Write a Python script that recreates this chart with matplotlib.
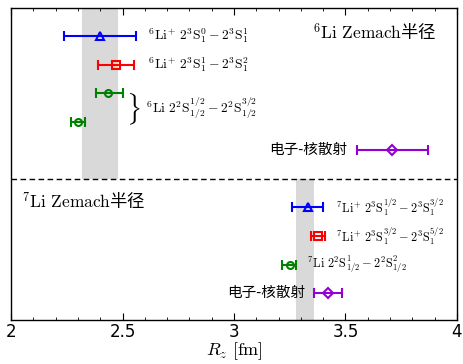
import matplotlib
matplotlib.use("Agg")
import matplotlib.pyplot as plt
from matplotlib.ticker import MultipleLocator

plt.rcParams['mathtext.fontset'] = 'cm'
plt.rcParams['font.family'] = ['DejaVu Sans']
CJK = ['Noto Sans CJK SC', 'DejaVu Sans']

# 6Li panel (rows from top)
li6_y = [10, 9, 8, 7, 6]
li6_val = [2.40, 2.47, 2.435, 2.30, 3.71]
li6_lo = [2.238, 2.39, 2.38, 2.27, 3.55]
li6_hi = [2.56, 2.55, 2.50, 2.33, 3.87]
li6_band = [2.32, 2.48]

# 7Li panel
li7_y = [4, 3, 2, 1]
li7_val = [3.33, 3.377, 3.25, 3.42]
li7_lo = [3.26, 3.345, 3.215, 3.36]
li7_hi = [3.40, 3.41, 3.28, 3.485]
li7_band = [3.28, 3.36]

li6_style = [('blue', '^'), ('red', 's'), ('green', 'o'), ('green', 'o'), ('darkviolet', 'D')]
li7_style = [('blue', '^'), ('red', 's'), ('green', 'o'), ('darkviolet', 'D')]

split_y = 5
y_min, y_max = 0.06, 10.98

fig = plt.figure(figsize=(4.63, 3.64), dpi=100)
ax = fig.add_axes([0.0238, 0.121, 0.9632, 0.857])

ax.fill_between(li6_band, split_y, y_max, color='#d9d9d9', lw=0, zorder=0)
ax.fill_between(li7_band, y_min, split_y, color='#d9d9d9', lw=0, zorder=0)
ax.axhline(split_y, color='black', ls='--', lw=1.0, dashes=(4, 2.5))


def draw(ys, vals, los, his, styles):
    for y, v, lo, hi, (c, m) in zip(ys, vals, los, his, styles):
        ms = 5 if m in ('D', 'o') else 6
        ax.errorbar(v, y, xerr=[[v - lo], [hi - v]], fmt=m, color=c, mfc='none',
                    mec=c, ms=ms, mew=1.5, elinewidth=1.5, capsize=3.5, capthick=1.5)


draw(li6_y, li6_val, li6_lo, li6_hi, li6_style)
draw(li7_y, li7_val, li7_lo, li7_hi, li7_style)

fs = 9.8
ax.text(2.615, 10, r'$^{6}\mathrm{Li}^{+}\ 2^{3}\mathrm{S}_{1}^{0}-2^{3}\mathrm{S}_{1}^{1}$',
        fontsize=fs, va='center', ha='left')
ax.text(2.615, 9, r'$^{6}\mathrm{Li}^{+}\ 2^{3}\mathrm{S}_{1}^{1}-2^{3}\mathrm{S}_{1}^{2}$',
        fontsize=fs, va='center', ha='left')
ax.text(2.515, 7.45, r'$\}$', fontsize=19, va='center', ha='left')
ax.text(2.605, 7.45, r'$^{6}\mathrm{Li}\ 2^{2}\mathrm{S}_{1/2}^{1/2}-2^{2}\mathrm{S}_{1/2}^{3/2}$',
        fontsize=fs, va='center', ha='left')
ax.text(3.51, 6, '电子-核散射', fontsize=10.5, va='center', ha='right', family=CJK,
        fontweight='light')
ax.text(3.91, 10.1, r'$^{6}\mathrm{Li\ Zemach}$半径', fontsize=12.5, va='center', ha='right',
        family=CJK, fontweight='light')

fs7 = 8.8
ax.text(3.457, 4, r'$^{7}\mathrm{Li}^{+}\ 2^{3}\mathrm{S}_{1}^{1/2}-2^{3}\mathrm{S}_{1}^{3/2}$',
        fontsize=fs7, va='center', ha='left')
ax.text(3.457, 3, r'$^{7}\mathrm{Li}^{+}\ 2^{3}\mathrm{S}_{1}^{3/2}-2^{3}\mathrm{S}_{1}^{5/2}$',
        fontsize=fs7, va='center', ha='left')
ax.text(3.327, 2, r'$^{7}\mathrm{Li}\ 2^{2}\mathrm{S}_{1/2}^{1}-2^{2}\mathrm{S}_{1/2}^{2}$',
        fontsize=fs7, va='center', ha='left')
ax.text(3.318, 1, '电子-核散射', fontsize=10.5, va='center', ha='right', family=CJK,
        fontweight='light')
ax.text(2.05, 4.2, r'$^{7}\mathrm{Li\ Zemach}$半径', fontsize=12.5, va='center', ha='left',
        family=CJK, fontweight='light')

ax.set_xlim(2, 4)
ax.set_ylim(y_min, y_max)
ax.set_yticks([])
ax.xaxis.set_major_locator(MultipleLocator(0.5))
ax.xaxis.set_minor_locator(MultipleLocator(0.1))
ax.tick_params(axis='x', which='both', direction='in', top=True, bottom=True)
ax.tick_params(axis='x', which='major', length=5, labelsize=12, pad=2)
ax.tick_params(axis='x', which='minor', length=2.5)
ax.set_xticks([2, 2.5, 3, 3.5, 4])
ax.set_xticklabels(['2', '2.5', '3', '3.5', '4'])
ax.set_xlabel(r'$R_z\ [\mathrm{fm}]$', fontsize=13, labelpad=0)
for s in ax.spines.values():
    s.set_linewidth(1.0)

fig.savefig('out.png', dpi=100)
